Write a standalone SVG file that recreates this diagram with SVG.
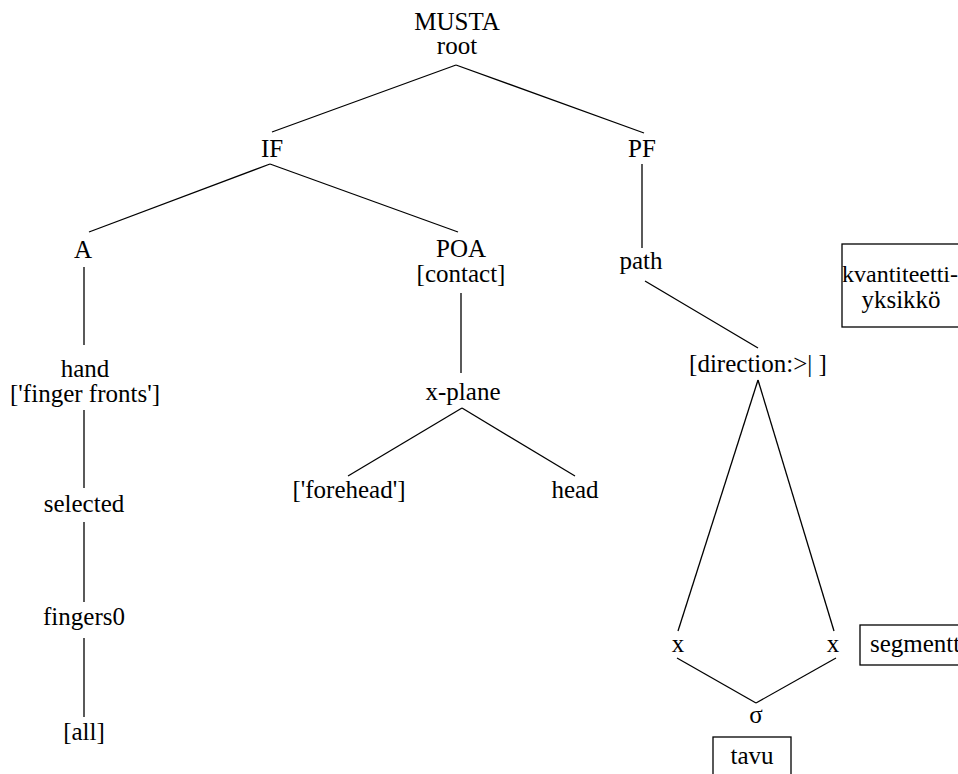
<svg xmlns="http://www.w3.org/2000/svg" width="958" height="774" viewBox="0 0 958 774">
<style>
.l{stroke:#000;stroke-width:1.3;fill:none}
.b{stroke:#000;stroke-width:1.3;fill:#fff}
.t{font-family:'Times New Roman','Liberation Serif','DejaVu Serif',serif;font-size:25px;text-anchor:middle;fill:#000}
</style>
<rect width="958" height="774" fill="#fff"/>
<g id="connectors">
<line class="l" x1="456" y1="65" x2="272" y2="132"/>
<line class="l" x1="456" y1="65" x2="644" y2="133"/>
<line class="l" x1="270" y1="164" x2="89" y2="232"/>
<line class="l" x1="270" y1="164" x2="458" y2="232"/>
<line class="l" x1="642" y1="164" x2="642" y2="248"/>
<line class="l" x1="645" y1="281" x2="758" y2="348"/>
<line class="l" x1="84" y1="267" x2="84" y2="345"/>
<line class="l" x1="461" y1="293" x2="461" y2="373"/>
<line class="l" x1="84" y1="410" x2="84" y2="488"/>
<line class="l" x1="84" y1="522" x2="84" y2="602"/>
<line class="l" x1="84" y1="638" x2="84" y2="717"/>
<line class="l" x1="462" y1="408" x2="348" y2="476"/>
<line class="l" x1="462" y1="408" x2="575" y2="476"/>
<line class="l" x1="758" y1="380" x2="678" y2="631"/>
<line class="l" x1="758" y1="380" x2="834" y2="631"/>
<line class="l" x1="677" y1="658" x2="756" y2="703"/>
<line class="l" x1="836" y1="658" x2="756" y2="703"/>
</g>
<g class="t">
<g id="n-root"><text x="457" y="30">MUSTA</text><text x="457" y="54">root</text></g>
<g id="n-IF"><text x="272" y="157">IF</text></g>
<g id="n-PF"><text x="642" y="157">PF</text></g>
<g id="n-A"><text x="83" y="258">A</text></g>
<g id="n-POA"><text x="461" y="257">POA</text><text x="461" y="282">[contact]</text></g>
<g id="n-path"><text x="641" y="269">path</text></g>
<g id="n-hand"><text x="85" y="377">hand</text><text x="85" y="402">['finger fronts']</text></g>
<g id="n-xplane"><text x="463" y="400">x-plane</text></g>
<g id="n-direction"><text x="758" y="372">[direction:&gt;| ]</text></g>
<g id="n-forehead"><text x="349" y="498">['forehead']</text></g>
<g id="n-head"><text x="575" y="498">head</text></g>
<g id="n-selected"><text x="84" y="512">selected</text></g>
<g id="n-fingers0"><text x="84" y="625">fingers0</text></g>
<g id="n-all"><text x="84" y="740">[all]</text></g>
<g id="n-x1"><text x="678" y="652">x</text></g>
<g id="n-x2"><text x="833" y="652">x</text></g>
<g id="n-sigma"><text x="756" y="723">σ</text></g>
<g id="n-kvantiteetti"><rect class="b" x="842" y="244" width="130" height="83"/><text x="900" y="282" style="font-size:24px">kvantiteetti-</text><text x="901" y="308">yksikkö</text></g>
<g id="n-segmentti"><rect class="b" x="860" y="625" width="120" height="40"/><text x="870" y="652" style="text-anchor:start">segmentti</text></g>
<g id="n-tavu"><rect class="b" x="713" y="737" width="78" height="50"/><text x="752" y="764">tavu</text></g>
</g>
</svg>
